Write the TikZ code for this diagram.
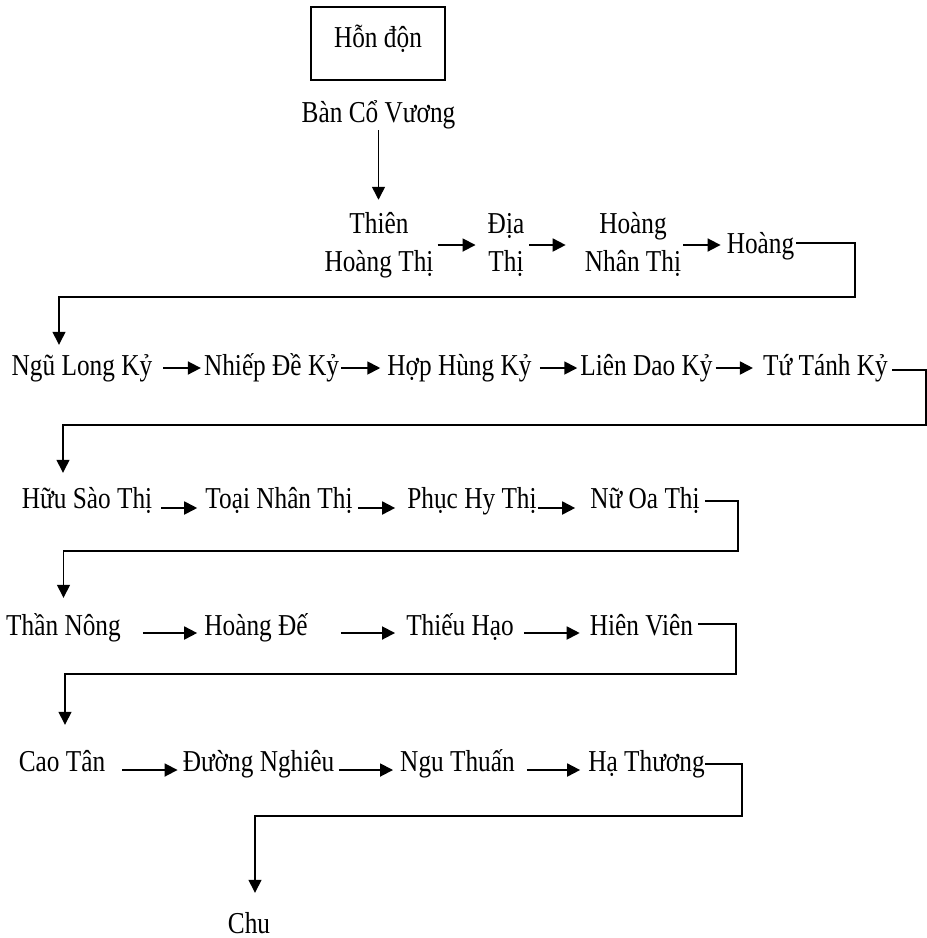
\documentclass[tikz,border=0pt]{standalone}
\usepackage{fontspec}
\setmainfont{Liberation Serif}
\usepackage{graphicx}
\usetikzlibrary{arrows.meta}
\newcommand\vt[1]{\scalebox{1}[1.2]{#1}}
\newcommand\vtt[2]{\scalebox{1}[1.2]{\begin{tabular}{@{}c@{}}#1\\#2\end{tabular}}}
\begin{document}
\begin{tikzpicture}[x=1pt,y=-1pt,
  every node/.style={font=\fontsize{25.3}{31.7}\selectfont},
  lab/.style={inner sep=0pt, anchor=base, text height=30pt, text depth=16pt},
  lab2/.style={inner sep=0pt, anchor=center},
  arr/.style={-{Triangle[length=13pt,width=13pt]}, line width=1.8pt},
  turn/.style={-{Triangle[length=13pt,width=13pt]}, line width=1.4pt}]
\useasboundingbox (0,0) rectangle (927,938);

% top
\node[draw, line width=1.5pt, minimum width=134pt, minimum height=73pt, inner sep=0pt,
      text height=19pt, text depth=12pt] (hon) at (378,43.5) {\vt{Hỗn độn}};
\node[lab] (ban) at (378.5,122) {\vt{Bàn Cổ Vương}};

% row 1
\node[lab2] (thien) at (379,245) {\vtt{Thiên}{Hoàng Thị}};
\node[lab2] (dia) at (506,245) {\vtt{Địa}{Thị}};
\node[lab2] (hnt) at (633,245) {\vtt{Hoàng}{Nhân Thị}};
\node[lab] (h4) at (760.5,253) {\vt{Hoàng}};

% row 2
\node[lab] (ngu) at (82,375) {\vt{Ngũ Long Kỷ}};
\node[lab] (nhiep) at (271.5,375) {\vt{Nhiếp Đề Kỷ}};
\node[lab] (hop) at (459.5,375) {\vt{Hợp Hùng Kỷ}};
\node[lab] (lien) at (646.5,375) {\vt{Liên Dao Kỷ}};
\node[lab] (tu) at (825.5,375) {\vt{Tứ Tánh Kỷ}};

% row 3
\node[lab] (husao) at (87,508) {\vt{Hữu Sào Thị}};
\node[lab] (toai) at (279,508) {\vt{Toại Nhân Thị}};
\node[lab] (phuc) at (472,508) {\vt{Phục Hy Thị}};
\node[lab] (nuoa) at (645,508) {\vt{Nữ Oa Thị}};

% row 4
\node[lab] (than) at (63.5,635) {\vt{Thần Nông}};
\node[lab] (hde) at (256,635) {\vt{Hoàng Đế}};
\node[lab] (thieu) at (460,635) {\vt{Thiếu Hạo}};
\node[lab] (hien) at (641.5,635) {\vt{Hiên Viên}};

% row 5
\node[lab] (cao) at (62,771) {\vt{Cao Tân}};
\node[lab] (duong) at (258.5,771) {\vt{Đường Nghiêu}};
\node[lab] (ngu2) at (457.5,771) {\vt{Ngu Thuấn}};
\node[lab] (ha) at (646.5,771) {\vt{Hạ Thương}};

\node[lab] (chu) at (249,933) {\vt{Chu}};

% corners
\coordinate (c1) at (855,297);
\coordinate (c2) at (926,425);
\coordinate (c3) at (738,551);
\coordinate (c4) at (736,674);
\coordinate (c5) at (742,816);

% vertical arrow
\draw[arr, line width=1.5pt, shorten <=-8pt, shorten >=7pt] (ban.south) -- (ban.south |- thien.north);

% row 1 arrows
\draw[arr, shorten <=4pt, shorten >=12pt] (thien.east) -- (dia.west);
\draw[arr, shorten <=5pt, shorten >=19pt] (dia.east) -- (hnt.west);
\draw[arr, shorten <=2pt, shorten >=6pt] (hnt.east) -- (hnt.east -| h4.west);
\draw[turn, shorten <=2pt] ([yshift=3pt]h4.east) -| (c1) -| ([xshift=-23pt]ngu.north);

% row 2 arrows
\draw[arr, shorten <=11pt, shorten >=3pt] (ngu.east) -- (nhiep.west);
\draw[arr, shorten <=2pt, shorten >=7pt] (nhiep.east) -- (hop.west);
\draw[arr, shorten <=8pt, shorten >=3pt] (hop.east) -- (lien.west);
\draw[arr, shorten <=3pt, shorten >=10pt] (lien.east) -- (tu.west);
\draw[turn, shorten <=4pt, shorten >=5pt] ([yshift=-2pt]tu.east) -| (c2) -| ([xshift=-24pt]husao.north);

% row 3 arrows
\draw[arr, shorten <=9pt, shorten >=8pt] ([yshift=-7pt]husao.east) -- ([yshift=-7pt]toai.west);
\draw[arr, shorten <=5pt, shorten >=12pt] ([yshift=-7pt]toai.east) -- ([yshift=-7pt]phuc.west);
\draw[arr, shorten <=1pt, shorten >=15pt] ([yshift=-7pt]phuc.east) -- ([yshift=-7pt]nuoa.west);
\draw[turn, shorten <=5pt, shorten >=7pt] (nuoa.east) -| (c3) -| (than.north);

% row 4 arrows
\draw[arr, shorten <=22pt, shorten >=7pt] ([yshift=-5pt]than.east) -- ([yshift=-5pt]hde.west);
\draw[arr, shorten <=33pt, shorten >=11pt] ([yshift=-5pt]hde.east) -- ([yshift=-5pt]thieu.west);
\draw[arr, shorten <=10pt, shorten >=10pt] ([yshift=-5pt]thieu.east) -- ([yshift=-5pt]hien.west);
\draw[turn, shorten <=5pt, shorten >=16pt] ([yshift=4pt]hien.east) -| (c4) -| ([xshift=3pt]cao.north);

% row 5 arrows
\draw[arr, shorten <=17pt, shorten >=5pt] ([yshift=-6pt]cao.east) -- ([yshift=-6pt]duong.west);
\draw[arr, shorten <=5pt, shorten >=7pt] ([yshift=-6pt]duong.east) -- ([yshift=-6pt]ngu2.west);
\draw[arr, shorten <=12pt, shorten >=8pt] ([yshift=-6pt]ngu2.east) -- ([yshift=-6pt]ha.west);
\draw[turn, shorten >=10pt] (ha.east) -| (c5) -| ([xshift=6pt]chu.north);
\end{tikzpicture}
\end{document}
